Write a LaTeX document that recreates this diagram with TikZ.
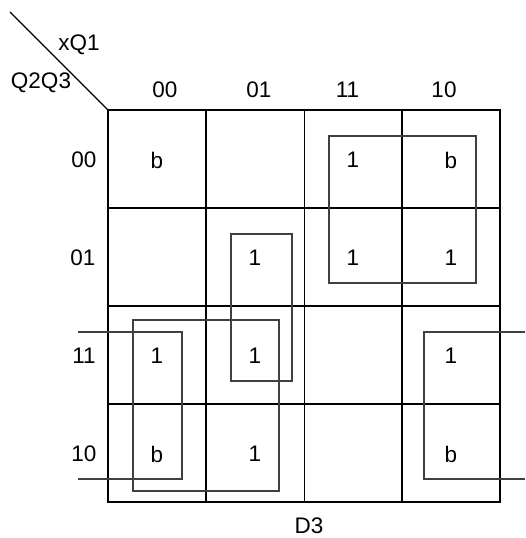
\documentclass[tikz,border=0pt]{standalone}
\usepackage{fontspec}
\setmainfont{Liberation Sans}
\begin{document}
\begin{tikzpicture}[x=1pt,y=-1pt,
  gridline/.style={line width=1.6pt,black},
  thinline/.style={line width=0.9pt,black},
  loopline/.style={line width=1.1pt,black!75},
  lbl/.style={font=\fontsize{22.5}{25}\selectfont,inner sep=0pt,anchor=center},
  entry/.style={lbl}]
\useasboundingbox (0,0) rectangle (525,538);

% K-map frame and cell boundaries
\coordinate (corner) at (108,110);
\coordinate (tip) at (10,12);
\draw[gridline] (108,110) rectangle (500,502);
\draw[gridline] (206,110) -- (206,502);
\draw[gridline] (402,110) -- (402,502);
\draw[thinline] (304,110) -- (304,502);
\foreach \y in {208,306,404} \draw[gridline] (108,\y) -- (500,\y);

% corner diagonal with variable names
\draw[line width=1.2pt] (tip) -- (corner);
\node[lbl] (vx) at (79,45) {xQ1};
\node[lbl] (vq) at (41,83) {Q2Q3};

% column and row headings
\node[lbl] (c00) at (165,90) {00};
\node[lbl] (c01) at (259,90) {01};
\node[lbl] (c11) at (347.5,90) {11};
\node[lbl] (c10) at (444,90) {10};
\node[lbl] (r00) at (84,160) {00};
\node[lbl] (r01) at (83,258) {01};
\node[lbl] (r11) at (84,356) {11};
\node[lbl] (r10) at (84,454) {10};

% cell entries
\node[entry] (e00a) at (157,160) {b};
\node[entry] (e00c) at (353,160) {1};
\node[entry] (e00d) at (451,160) {b};
\node[entry] (e01b) at (255,258) {1};
\node[entry] (e01c) at (353,258) {1};
\node[entry] (e01d) at (451,258) {1};
\node[entry] (e11a) at (157,356) {1};
\node[entry] (e11b) at (255,356) {1};
\node[entry] (e11d) at (451,356) {1};
\node[entry] (e10a) at (157,454) {b};
\node[entry] (e10b) at (255,454) {1};
\node[entry] (e10d) at (451,454) {b};

% output name
\node[lbl] (out) at (309,526) {D3};

% groupings
\draw[loopline] (329,136) rectangle (476,283);
\draw[loopline] (231,234) rectangle (292,381);
\draw[loopline] (133,320) rectangle (279,491);
\draw[loopline] (78,332) -- (182,332) -- (182,479) -- (78,479);
\draw[loopline] (525,332) -- (424,332) -- (424,479) -- (525,479);
\end{tikzpicture}
\end{document}
